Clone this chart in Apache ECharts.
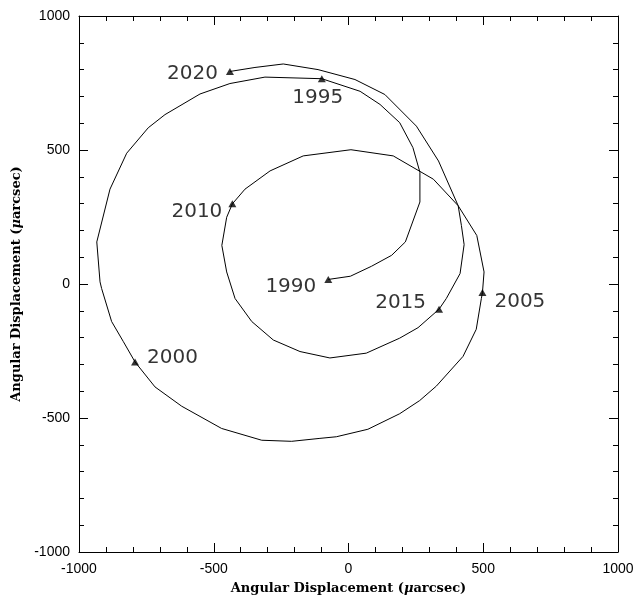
<!DOCTYPE html>
<html>
<head>
<meta charset="utf-8">
<script src="https://cdn.jsdelivr.net/npm/echarts@6/dist/echarts.min.js"></script>
<style>html,body{margin:0;padding:0;background:#fff;}#c{width:637px;height:600px;}</style>
</head>
<body>
<div id="c"></div>
<script>
// Path of the angular displacement, 1990 -> 2020 (µarcsec)
const pathX = [-75, 7, 85, 160, 211, 265, 265, 239, 190, 117, 43, -99, -310, -440, -551, -681, -743, -823, -885, -934, -922, -916, -879, -836, -792, -718, -619, -471, -322, -211, -106, -45, 72, 190, 264, 326, 425, 474, 493, 497, 503, 476, 407, 315, 166, 9, -168, -291, -384, -431, -452, -470, -452, -421, -359, -279, -180, -69, 66, 190, 258, 336, 363, 414, 429, 419, 407, 334, 252, 135, 24, -113, -242, -347, -440];
const pathY = [17, 29, 66, 107, 157, 306, 417, 509, 602, 670, 719, 766, 772, 748, 709, 632, 583, 488, 354, 157, 8, -17, -140, -214, -291, -384, -456, -539, -583, -587, -576, -570, -542, -484, -435, -381, -270, -169, -54, -32, 45, 181, 292, 391, 478, 501, 478, 422, 354, 299, 249, 144, 45, -54, -140, -209, -252, -276, -258, -202, -163, -94, -54, 39, 147, 218, 292, 459, 589, 707, 763, 800, 821, 808, 793];
// Year markers
const years = [1990, 1995, 2000, 2005, 2010, 2015, 2020];
const markX = [-75, -99, -792, 497, -431, 336, -440];
const markY = [17, 766, -291, -32, 299, -94, 793];
// Axis ticks
const axisMin = -1000, axisMax = 1000, axisStep = 500;

const labelPlace = {
  1990: {position: 'left', distance: 8, offset: [0, 7]},
  1995: {position: 'bottom', distance: 6, offset: [-4, 0]},
  2000: {position: 'right', distance: 8, offset: [0, -4]},
  2005: {position: 'right', distance: 8, offset: [0, 9]},
  2010: {position: 'left', distance: 6, offset: [0, 8]},
  2015: {position: 'left', distance: 9, offset: [0, -6]},
  2020: {position: 'left', distance: 8, offset: [0, 2]}
};

const line = pathX.map((x, i) => [x, pathY[i]]);
const marks = years.map((y, i) => ({
  value: [markX[i], markY[i]],
  name: String(y),
  label: Object.assign({show: true, formatter: String(y), color: '#000'}, labelPlace[y])
}));

const nameRich = {
  rich: {
    m: {fontFamily: 'DejaVu Serif', fontStyle: 'italic', fontWeight: 'bold', fontSize: 13, color: '#000'}
  }
};
const axisName = 'Angular Displacement ({m|μ}arcsec)';

function mkAxis(pos, show, isX) {
  return {
    type: 'value', position: pos, min: axisMin, max: axisMax, interval: axisStep,
    name: show ? axisName : '',
    nameLocation: 'middle',
    nameGap: isX ? 30 : 54,
    nameTextStyle: Object.assign({fontFamily: 'DejaVu Serif', fontWeight: 'bold', fontSize: 13, color: '#000'}, nameRich),
    axisLine: {show: true, onZero: false, lineStyle: {color: '#000', width: 1}},
    axisTick: {show: true, inside: true, length: 9, lineStyle: {color: '#000', width: 1}},
    minorTick: {show: true, splitNumber: 5, length: 5, lineStyle: {color: '#000', width: 1}},
    axisLabel: {show: show, color: '#000', fontFamily: 'Liberation Sans', fontSize: 14, margin: isX ? 10 : 9,
      formatter: function (v) { return String(v); }},
    splitLine: {show: false},
    minorSplitLine: {show: false}
  };
}

const chart = echarts.init(document.getElementById('c'), null, {renderer: 'canvas'});
chart.setOption({
  animation: false,
  backgroundColor: '#fff',
  grid: {left: 79, top: 16, width: 539, height: 539, containLabel: false},
  xAxis: [mkAxis('bottom', true, true), mkAxis('top', false, true)],
  yAxis: [mkAxis('left', true, false), mkAxis('right', false, false)],
  series: [
    {
      type: 'line', data: line, showSymbol: false, symbol: 'none', smooth: false,
      lineStyle: {color: '#000', width: 1}, silent: true, z: 2
    },
    {
      type: 'scatter', data: marks, symbol: 'triangle', symbolSize: [8, 7],
      itemStyle: {color: '#000'},
      label: {color: '#000', fontFamily: 'DejaVu Sans', fontSize: 20},
      z: 3
    }
  ]
});
</script>
</body>
</html>
